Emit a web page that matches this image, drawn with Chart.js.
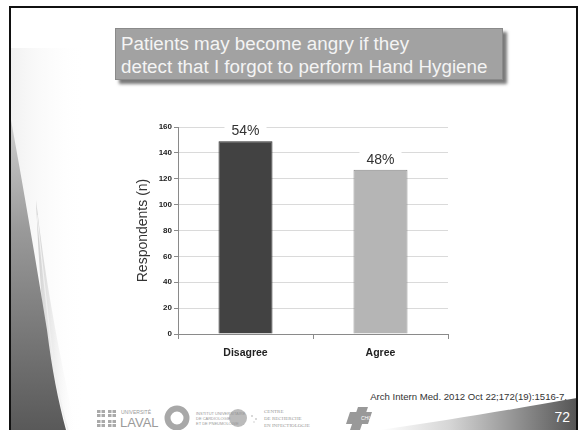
<!DOCTYPE html>
<html>
<head>
<meta charset="utf-8">
<script src="https://cdn.jsdelivr.net/npm/chart.js@4.4.1/dist/chart.umd.min.js"></script>
<style>
  html, body { margin: 0; padding: 0; background: #fff; }
  body { width: 579px; height: 430px; position: relative; overflow: hidden; font-family: "Liberation Sans", Arial, sans-serif; }
  .frame { position: absolute; left: 9px; top: 6px; width: 569px; height: 440px; border: 2px solid #111; box-sizing: border-box; }
  .deco { position: absolute; left: 0; top: 0; }
  .titlebox { position: absolute; left: 115px; top: 28px; width: 388px; height: 52px; background: #a2a2a2; border: 1px solid #8a8a8a; box-sizing: border-box; box-shadow: 4px 4px 3px #7a7a7a; color: #f4f4f4; font-size: 18.8px; line-height: 23px; padding: 3px 0 0 5px; white-space: nowrap; }
  #wrap { position: absolute; left: 110px; top: 105px; width: 360px; height: 270px; }
  .cite { position: absolute; right: 12px; top: 391px; font-size: 9.6px; color: #333; white-space: nowrap; }
  .pnum { position: absolute; right: 9px; top: 409px; font-size: 14px; color: #fff; }
  .small { position: absolute; font-size: 4px; color: #999; line-height: 5px; }
</style>
</head>
<body>
<svg class="deco" width="579" height="430">
  <defs>
    <linearGradient id="swoosh" x1="0" y1="0" x2="0" y2="1">
      <stop offset="0" stop-color="#d0d0d0"/>
      <stop offset="0.35" stop-color="#9a9a9a"/>
      <stop offset="1" stop-color="#595959"/>
    </linearGradient>
    <linearGradient id="glow" x1="0" y1="0" x2="1" y2="0">
      <stop offset="0" stop-color="#b8b8b8"/>
      <stop offset="1" stop-color="#fff" stop-opacity="0"/>
    </linearGradient>
    <linearGradient id="band" x1="0" y1="0" x2="1" y2="0">
      <stop offset="0" stop-color="#fff"/>
      <stop offset="0.35" stop-color="#d6d6d6"/>
      <stop offset="1" stop-color="#555"/>
    </linearGradient>
    <linearGradient id="haze" x1="0" y1="0" x2="1" y2="0">
      <stop offset="0" stop-color="#e4e4e4"/>
      <stop offset="1" stop-color="#fff" stop-opacity="0"/>
    </linearGradient>
  </defs>
  <rect x="11" y="48" width="75" height="382" fill="url(#haze)" opacity="0.5"/>
  <path d="M36 200 C 44 270, 56 340, 76 430 L 54 430 C 45 350, 40 290, 36 200 Z" fill="url(#glow)" opacity="0.7"/>
  <path d="M11 120 C 22 180, 34 250, 47 330 C 52 370, 58 400, 66 430 L 11 430 Z" fill="url(#swoosh)"/>
  <path d="M37 215 C 43 270, 48 320, 52 350 C 56 380, 60 405, 68 430" stroke="#f0f0f0" stroke-width="1.2" fill="none"/>
  <path d="M380 430 C 450 420, 520 408, 577 398 L 577 430 Z" fill="url(#band)"/>
  <!-- Université Laval -->
  <g fill="#aaa">
    <rect x="97" y="410" width="8" height="7"/><rect x="108" y="410" width="8" height="7"/>
    <rect x="97" y="420" width="8" height="7"/><rect x="108" y="420" width="8" height="7"/>
  </g>
  <g stroke="#fff" stroke-width="1">
    <line x1="101" y1="410" x2="101" y2="427"/><line x1="112" y1="410" x2="112" y2="427"/>
    <line x1="97" y1="413.5" x2="116" y2="413.5"/><line x1="97" y1="423.5" x2="116" y2="423.5"/>
  </g>
  <text x="121" y="414" font-size="5" fill="#999" font-family="Liberation Sans">UNIVERSITÉ</text>
  <text x="120" y="427" font-size="13" fill="#9a9a9a" font-family="Liberation Sans">LAVAL</text>
  <!-- ring logo -->
  <circle cx="177" cy="418" r="9.5" fill="none" stroke="#a8a8a8" stroke-width="6"/>
  <!-- dotted globe -->
  <circle cx="238" cy="418" r="9" fill="#bbb"/>
  <g fill="#ccc"><circle cx="252" cy="416" r="1"/><circle cx="256" cy="419" r="1"/><circle cx="254" cy="422" r="0.8"/></g>
  <text x="264" y="413" font-size="5" fill="#999" font-family="Liberation Serif">CENTRE</text>
  <text x="264" y="420" font-size="5" fill="#999" font-family="Liberation Serif">DE RECHERCHE</text>
  <text x="264" y="427" font-size="5" fill="#999" font-family="Liberation Serif">EN INFECTIOLOGIE</text>
  <!-- CHUQ -->
  <path d="M350 412 L372 412 L368 424 L346 424 Z" fill="#999"/>
  <path d="M358 407 L368 407 L360 430 L350 430 Z" fill="#999"/>
  <text x="361" y="420" font-size="5" fill="#fff" font-style="italic" font-family="Liberation Sans">CHUQ</text>
</svg>
<div class="frame"></div>
<div class="titlebox">Patients may become angry if they<br>detect that I forgot to perform Hand Hygiene</div>
<div class="small" style="left:196px;top:411px;">INSTITUT UNIVERSITAIRE<br>DE CARDIOLOGIE<br>ET DE PNEUMOLOGIE</div>
<div id="wrap"><canvas id="c" width="360" height="270"></canvas></div>
<div class="cite">Arch Intern Med. 2012 Oct 22;172(19):1516-7.</div>
<div class="pnum">72</div>
<script>
const categories = ["Disagree", "Agree"];
const respondents = [149, 127];
const percentLabels = ["54%", "48%"];
const barColors = ["#424242", "#b5b5b5"];
const barBorders = ["#2e2e2e", "#8c8c8c"];
const yTicks = [0, 20, 40, 60, 80, 100, 120, 140, 160];

// Draws the percentage above each bar on a white patch that masks the gridline
const percentPlugin = {
  id: "percentPlugin",
  afterDatasetsDraw(chart) {
    const ctx = chart.ctx;
    const meta = chart.getDatasetMeta(0);
    ctx.save();
    ctx.font = "14px 'Liberation Sans', Arial, sans-serif";
    ctx.textAlign = "center";
    ctx.textBaseline = "middle";
    meta.data.forEach((bar, i) => {
      const txt = percentLabels[i];
      const w = ctx.measureText(txt).width + 14;
      const y = bar.y - 10;
      ctx.fillStyle = "#fff";
      ctx.fillRect(bar.x - w / 2, y - 8, w, 16);
      ctx.fillStyle = "#333";
      ctx.fillText(txt, bar.x, y);
    });
    ctx.restore();
  }
};

new Chart(document.getElementById("c"), {
  type: "bar",
  data: {
    labels: categories,
    datasets: [{
      data: respondents,
      backgroundColor: barColors,
      borderColor: barBorders,
      borderWidth: 1,
      barPercentage: 0.4,
      categoryPercentage: 1.0
    }]
  },
  options: {
    responsive: false,
    animation: false,
    layout: { padding: { top: 22, right: 22, left: 0, bottom: 0 } },
    plugins: { legend: { display: false }, tooltip: { enabled: false } },
    scales: {
      x: {
        offset: true,
        grid: { display: true, offset: true, drawOnChartArea: false, color: "#8a8a8a", tickLength: 5 },
        border: { color: "#8a8a8a" },
        ticks: {
          padding: 8,
          color: "#222",
          font: { family: "'Liberation Sans Narrow', 'Liberation Sans', Arial, sans-serif", size: 10.5, weight: "bold" }
        },
        afterFit(scale) { scale.height = 41; }
      },
      y: {
        min: 0,
        max: 160,
        afterBuildTicks(scale) { scale.ticks = yTicks.map(v => ({ value: v })); },
        grid: { color: "#dadada", tickColor: "#8a8a8a", tickLength: 4 },
        border: { color: "#8a8a8a" },
        ticks: {
          padding: 2,
          color: "#222",
          font: { family: "'Liberation Sans Narrow', 'Liberation Sans', Arial, sans-serif", size: 8, weight: "bold" }
        },
        title: {
          display: true,
          text: "Respondents (n)",
          color: "#333",
          padding: { top: 25, bottom: 0 },
          font: { family: "'Liberation Sans', Arial, sans-serif", size: 14 }
        },
        afterFit(scale) { scale.width = 68; }
      }
    }
  },
  plugins: [percentPlugin]
});
</script>
</body>
</html>
